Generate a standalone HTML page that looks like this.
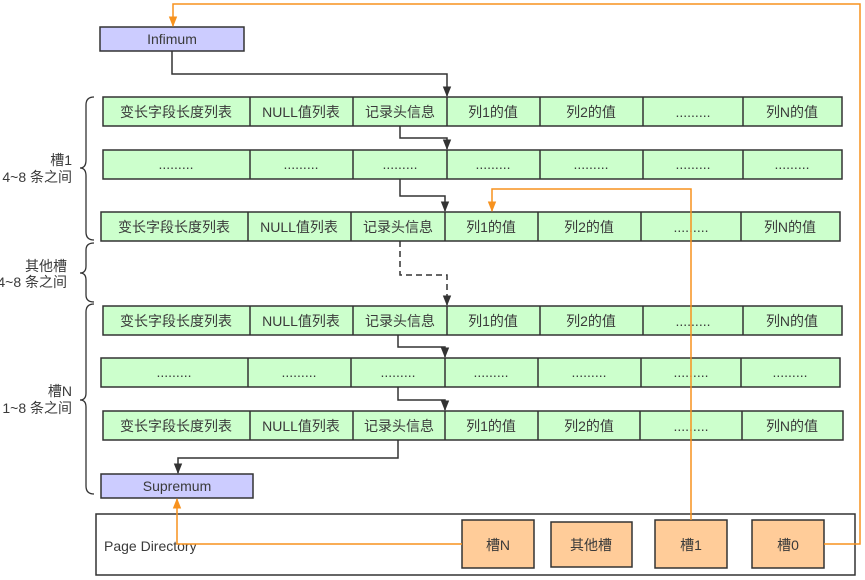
<!DOCTYPE html>
<html><head><meta charset="utf-8"><style>
html,body{margin:0;padding:0;background:#fff}
svg{display:block}
text{font-family:"Liberation Sans","Noto Sans CJK SC",sans-serif;font-size:14px;fill:#3a3a3a}
</style></head><body>
<svg width="865" height="580" viewBox="0 0 865 580" xmlns="http://www.w3.org/2000/svg">
<defs>
<marker id="ab" viewBox="0 0 10 10" refX="9" refY="5" markerWidth="7" markerHeight="7" orient="auto"><path d="M0,1 L10,5 L0,9 z" fill="#333"/></marker>
<marker id="ao" viewBox="0 0 10 10" refX="9" refY="5" markerWidth="7" markerHeight="7" orient="auto"><path d="M0,1 L10,5 L0,9 z" fill="#f7921e"/></marker>
</defs>
<g stroke="#333" stroke-width="1.5" fill="#ccffcc">
<rect x="103" y="97" width="739" height="29"/>
<path d="M250 97V126M353 97V126M447 97V126M540 97V126M643 97V126M743 97V126"/>
<rect x="103" y="150" width="739" height="29"/>
<path d="M250 150V179M353 150V179M447 150V179M540 150V179M643 150V179M743 150V179"/>
<rect x="101" y="212" width="739" height="29"/>
<path d="M248 212V241M351 212V241M445 212V241M538 212V241M641 212V241M741 212V241"/>
<rect x="103" y="306" width="739" height="29"/>
<path d="M250 306V335M353 306V335M447 306V335M540 306V335M643 306V335M743 306V335"/>
<rect x="101" y="358" width="739" height="29"/>
<path d="M248 358V387M351 358V387M445 358V387M538 358V387M641 358V387M741 358V387"/>
<rect x="103" y="411" width="740" height="29"/>
<path d="M250 411V440M353 411V440M445 411V440M538 411V440M640 411V440M742 411V440"/>
</g>
<rect x="100" y="27" width="144" height="24" fill="#ccccff" stroke="#333" stroke-width="1.5"/>
<rect x="101" y="474" width="152" height="24" fill="#ccccff" stroke="#333" stroke-width="1.5"/>
<rect x="96" y="514" width="759" height="61" fill="#fff" stroke="#333" stroke-width="1.5"/>
<g fill="#ffcc99" stroke="#333" stroke-width="1.5">
<rect x="462" y="520" width="72" height="48"/>
<rect x="551" y="522" width="81" height="45"/>
<rect x="655" y="520" width="72" height="48"/>
<rect x="752" y="520" width="72" height="48"/>
</g>
<g text-anchor="middle">
<text x="172" y="44">Infimum</text>
<text x="177" y="491">Supremum</text>
<text x="176" y="117">变长字段长度列表</text><text x="301" y="117">NULL值列表</text><text x="400" y="117">记录头信息</text><text x="493" y="117">列1的值</text><text x="591" y="117">列2的值</text><text x="693" y="117">.........</text><text x="792" y="117">列N的值</text>
<text x="176" y="169">.........</text><text x="301" y="169">.........</text><text x="400" y="169">.........</text><text x="493" y="169">.........</text><text x="591" y="169">.........</text><text x="693" y="169">.........</text><text x="792" y="169">.........</text>
<text x="174" y="232">变长字段长度列表</text><text x="299" y="232">NULL值列表</text><text x="398" y="232">记录头信息</text><text x="491" y="232">列1的值</text><text x="589" y="232">列2的值</text><text x="691" y="232">.........</text><text x="790" y="232">列N的值</text>
<text x="176" y="326">变长字段长度列表</text><text x="301" y="326">NULL值列表</text><text x="400" y="326">记录头信息</text><text x="493" y="326">列1的值</text><text x="591" y="326">列2的值</text><text x="693" y="326">.........</text><text x="792" y="326">列N的值</text>
<text x="174" y="377">.........</text><text x="299" y="377">.........</text><text x="398" y="377">.........</text><text x="491" y="377">.........</text><text x="589" y="377">.........</text><text x="691" y="377">.........</text><text x="790" y="377">.........</text>
<text x="176" y="431">变长字段长度列表</text><text x="301" y="431">NULL值列表</text><text x="399" y="431">记录头信息</text><text x="491" y="431">列1的值</text><text x="589" y="431">列2的值</text><text x="691" y="431">.........</text><text x="792" y="431">列N的值</text>
<text x="498" y="550">槽N</text><text x="591" y="550">其他槽</text><text x="691" y="550">槽1</text><text x="788" y="550">槽0</text>
</g>
<text x="104" y="551" font-size="15">Page Directory</text>
<g text-anchor="end" font-size="13">
<text x="72" y="165">槽1</text><text x="72" y="182">4~8 条之间</text>
<text x="67" y="271">其他槽</text><text x="67" y="287">4~8 条之间</text>
<text x="72" y="396">槽N</text><text x="72" y="413">1~8 条之间</text>
</g>
<g fill="none" stroke="#333" stroke-width="1.3">
<path d="M94 97 Q86 97 86 105 V160 Q86 168 80 168 Q86 168 86 176 V232 Q86 240 94 240"/>
<path d="M94 243 Q86 243 86 250 V266 Q86 273 80 273 Q86 273 86 280 V295 Q86 302 94 302"/>
<path d="M94 304 Q86 304 86 312 V393 Q86 400 80 400 Q86 400 86 407 V486 Q86 494 94 494"/>
</g>
<g fill="none" stroke="#333" stroke-width="1.5">
<path d="M172 51V74H447V96" marker-end="url(#ab)"/>
<path d="M400 126V138H447V149" marker-end="url(#ab)"/>
<path d="M400 179V196H445V211" marker-end="url(#ab)"/>
<path d="M400 241V275H447V305" stroke-dasharray="6,4" marker-end="url(#ab)"/>
<path d="M398 335V347H445V357" marker-end="url(#ab)"/>
<path d="M398 387V400H445V410" marker-end="url(#ab)"/>
<path d="M398 440V458H178V473" marker-end="url(#ab)"/>
</g>
<g fill="none" stroke="#f7921e" stroke-width="1.5">
<path d="M824 544H860V4H173V26" marker-end="url(#ao)"/>
<path d="M691 520V189H492V211" marker-end="url(#ao)"/>
<path d="M462 544H177V499" marker-end="url(#ao)"/>
</g>
</svg>
</body></html>
